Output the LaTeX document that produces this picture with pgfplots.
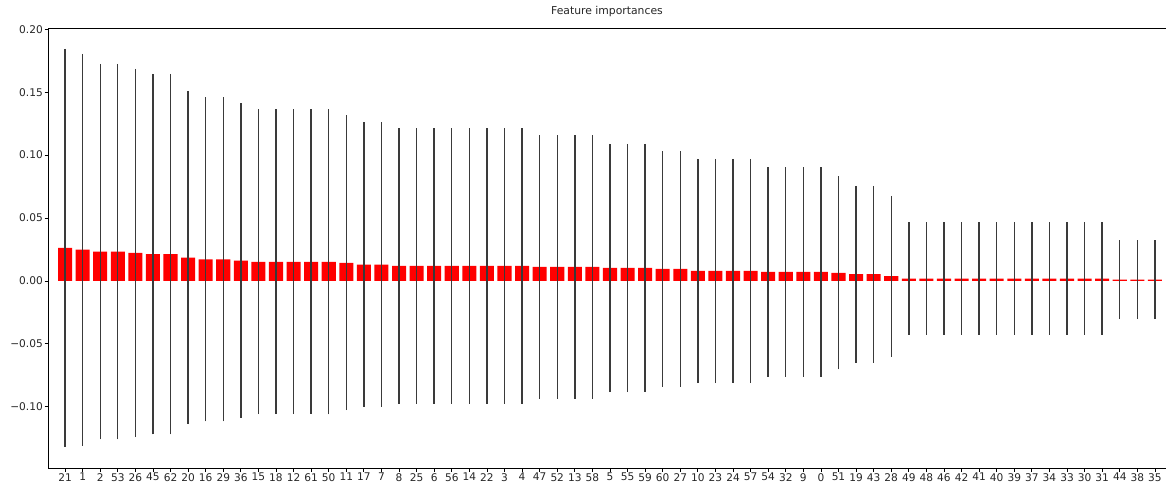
\documentclass[border=0pt]{standalone}
\usepackage{pgfplots}
\pgfplotsset{compat=1.18}
\usepackage{pgfplotstable}
\usepackage{fontspec}
\setmainfont{DejaVu Sans}
\pgfplotstableread{
x y e
0 0.0263 0.1581
1 0.0248 0.1557
2 0.0233 0.1492
3 0.0233 0.1492
4 0.0222 0.1464
5 0.0213 0.1433
6 0.0213 0.1433
7 0.0186 0.1325
8 0.0172 0.1288
9 0.0172 0.1288
10 0.0162 0.1251
11 0.0152 0.1211
12 0.0152 0.1211
13 0.0152 0.1211
14 0.0152 0.1211
15 0.0151 0.1212
16 0.0144 0.1171
17 0.0130 0.1130
18 0.0130 0.1130
19 0.0119 0.1094
20 0.0119 0.1094
21 0.0119 0.1094
22 0.0119 0.1094
23 0.0119 0.1094
24 0.0119 0.1094
25 0.0119 0.1094
26 0.0119 0.1094
27 0.0111 0.1046
28 0.0111 0.1046
29 0.0111 0.1046
30 0.0111 0.1046
31 0.0103 0.0987
32 0.0103 0.0987
33 0.0103 0.0987
34 0.0095 0.0935
35 0.0095 0.0935
36 0.0079 0.0891
37 0.0079 0.0891
38 0.0079 0.0891
39 0.0079 0.0891
40 0.0071 0.0834
41 0.0071 0.0834
42 0.0071 0.0834
43 0.0071 0.0834
44 0.0063 0.0767
45 0.0053 0.0702
46 0.0053 0.0702
47 0.0037 0.0638
48 0.0019 0.0448
49 0.0019 0.0448
50 0.0019 0.0448
51 0.0019 0.0448
52 0.0019 0.0448
53 0.0019 0.0448
54 0.0019 0.0448
55 0.0019 0.0448
56 0.0019 0.0448
57 0.0019 0.0448
58 0.0019 0.0448
59 0.0019 0.0448
60 0.0011 0.0314
61 0.0011 0.0314
62 0.0011 0.0314
}\imp
\definecolor{errc}{HTML}{3A3A3A}
\begin{document}
\begin{tikzpicture}
\begin{axis}[
  at={(0,0)}, anchor=south west,
  scale only axis, width=1118pt, height=440pt,
  xmin=-0.97, xmax=62.63,
  ymin=-0.1487, ymax=0.201,
  xtick={0,...,62},
  xticklabels={21,1,2,53,26,45,62,20,16,29,36,15,18,12,61,50,11,17,7,8,25,6,56,14,22,3,4,47,52,13,58,5,55,59,60,27,10,23,24,57,54,32,9,0,51,19,43,28,49,48,46,42,41,40,39,37,34,33,30,31,44,38,35},
  ytick={-0.10,-0.05,0,0.05,0.10,0.15,0.20},
  yticklabels={−0.10,−0.05,0.00,0.05,0.10,0.15,0.20},
  tick align=outside, tick pos=left,
  major tick length=3.5pt,
  every tick/.style={black, line width=0.8pt},
  axis line style={black, line width=0.8pt},
  ticklabel style={font=\fontsize{10.6}{12}\selectfont, text=black!85},
  yticklabel style={inner sep=1.5pt},
  xticklabel style={inner sep=1.5pt},
  title={Feature importances},
  title style={at={(0.5,1)}, anchor=base, yshift=7pt, inner sep=0pt, font=\fontsize{10.8}{13}\selectfont, text=black!85},
  clip=false,
]
\addplot[ybar, bar width=0.8, fill=red, draw=none,
  error bars/.cd, y dir=both, y explicit, error mark=none,
  error bar style={line width=1.4pt, color=errc}]
  table[x=x, y=y, y error=e] {\imp};
\end{axis}
\pgfresetboundingbox
\path[use as bounding box] (-48pt,-15pt) rectangle (1118pt,468pt);
\end{tikzpicture}
\end{document}
